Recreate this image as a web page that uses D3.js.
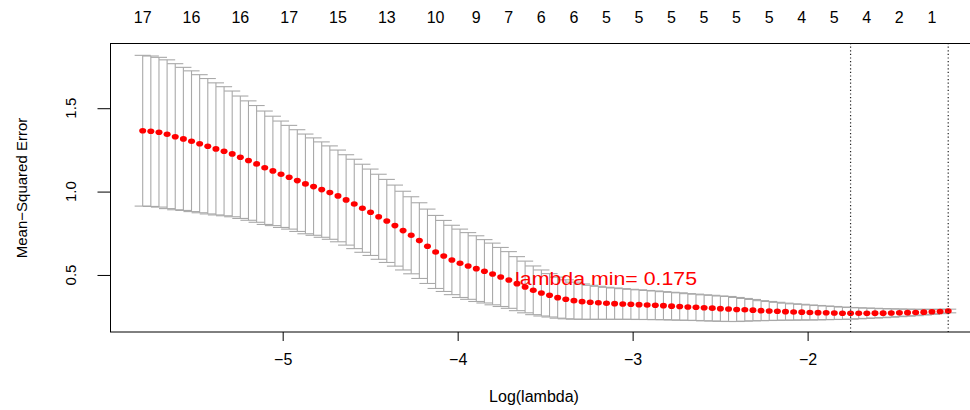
<!DOCTYPE html>
<html><head><meta charset="utf-8">
<script src="https://cdn.jsdelivr.net/npm/d3@7/dist/d3.min.js"></script>
<style>body{margin:0;background:#fff}svg{display:block;font-family:"Liberation Sans",Arial,sans-serif}</style>
</head><body><svg id="c" width="970" height="410"></svg>
<script>
const logLambda = [-5.800,-5.7535,-5.707,-5.6605,-5.614,-5.5675,-5.521,-5.4745,-5.428,-5.3815,
-5.335,-5.2885,-5.242,-5.1955,-5.149,-5.1025,-5.056,-5.0095,-4.963,-4.9165,
-4.870,-4.8235,-4.777,-4.7305,-4.684,-4.6375,-4.591,-4.5445,-4.498,-4.4515,
-4.405,-4.3585,-4.312,-4.2655,-4.219,-4.1725,-4.126,-4.0795,-4.033,-3.9865,
-3.940,-3.8935,-3.847,-3.8005,-3.754,-3.7075,-3.661,-3.6145,-3.568,-3.5215,
-3.475,-3.4285,-3.382,-3.3355,-3.289,-3.2425,-3.196,-3.1495,-3.103,-3.0565,
-3.010,-2.9635,-2.917,-2.8705,-2.824,-2.7775,-2.731,-2.6845,-2.638,-2.5915,
-2.545,-2.4985,-2.452,-2.4055,-2.359,-2.3125,-2.266,-2.2195,-2.173,-2.1265,
-2.080,-2.0335,-1.987,-1.9405,-1.894,-1.8475,-1.801,-1.7545,-1.708,-1.6615,
-1.615,-1.5685,-1.522,-1.4755,-1.429,-1.3825,-1.336,-1.2895,-1.243,-1.1965];

const cvm = [1.365,1.362,1.356,1.344,1.329,1.316,1.302,1.287,1.272,1.256,
1.242,1.226,1.206,1.186,1.166,1.143,1.124,1.104,1.086,1.066,
1.046,1.030,1.012,0.994,0.974,0.950,0.926,0.900,0.876,0.849,
0.824,0.796,0.766,0.738,0.706,0.672,0.638,0.614,0.590,0.570,
0.554,0.538,0.522,0.506,0.488,0.470,0.448,0.428,0.408,0.392,
0.378,0.364,0.354,0.346,0.340,0.336,0.333,0.330,0.328,0.326,
0.324,0.322,0.320,0.318,0.316,0.313,0.311,0.308,0.306,0.303,
0.301,0.298,0.296,0.293,0.291,0.289,0.286,0.284,0.282,0.280,
0.278,0.277,0.275,0.274,0.273,0.272,0.2705,0.2700,0.2702,0.2705,
0.271,0.271,0.272,0.273,0.274,0.275,0.277,0.279,0.281,0.284];

const cvsd = [0.452,0.451,0.449,0.446,0.438,0.429,0.422,0.414,0.406,0.396,
0.387,0.377,0.367,0.358,0.350,0.340,0.328,0.319,0.311,0.305,
0.299,0.292,0.286,0.280,0.275,0.271,0.268,0.264,0.259,0.255,
0.249,0.243,0.236,0.231,0.227,0.223,0.219,0.213,0.208,0.205,
0.200,0.197,0.190,0.185,0.177,0.170,0.162,0.155,0.146,0.138,
0.130,0.123,0.117,0.111,0.106,0.102,0.099,0.096,0.094,0.092,
0.090,0.089,0.087,0.086,0.084,0.083,0.082,0.080,0.079,0.078,
0.077,0.076,0.075,0.072,0.068,0.064,0.060,0.057,0.054,0.051,
0.049,0.047,0.045,0.043,0.041,0.039,0.037,0.035,0.033,0.031,
0.029,0.027,0.025,0.023,0.021,0.019,0.017,0.015,0.013,0.011];

const topLabelAt = [-5.800,-5.521,-5.242,-4.963,-4.684,-4.405,-4.126,-3.894,-3.708,-3.522,-3.336,
-3.150,-2.964,-2.778,-2.592,-2.406,-2.220,-2.034,-1.848,-1.662,-1.476,-1.290];
const topLabels = ["17","16","16","17","15","13","10","9","7","6","6","5","5","5","5","5","5","4","5","4","2","1"];
const xTicks = [-5,-4,-3,-2];
const yTicks = [0.5,1.0,1.5];
const vLines = [-1.7545,-1.1965];
const annotation = {text:"lambda min= 0.175", x:-3.672, y:0.44};
const xLabel = "Log(lambda)";
const yLabel = "Mean\u2212Squared Error";

const svg = d3.select("#c");
const x = d3.scaleLinear().domain([-5.984,-1.012]).range([110.5,980.5]);
const y = d3.scaleLinear().domain([0.158,1.891]).range([332,43]);
const barw = 0.01 * (d3.max(logLambda) - d3.min(logLambda));
const data = logLambda.map((l,i)=>({l, m:cvm[i], s:cvsd[i]}));

// error bars
const eb = svg.append("g").attr("stroke","#A9A9A9").attr("stroke-width",1.1).attr("fill","none");
eb.selectAll("line.v").data(data).join("line").attr("class","v")
  .attr("x1",d=>x(d.l)).attr("x2",d=>x(d.l))
  .attr("y1",d=>y(d.m+d.s)).attr("y2",d=>y(d.m-d.s));
eb.selectAll("line.u").data(data).join("line").attr("class","u")
  .attr("x1",d=>x(d.l-barw)).attr("x2",d=>x(d.l+barw))
  .attr("y1",d=>y(d.m+d.s)).attr("y2",d=>y(d.m+d.s));
eb.selectAll("line.lo").data(data).join("line").attr("class","lo")
  .attr("x1",d=>x(d.l-barw)).attr("x2",d=>x(d.l+barw))
  .attr("y1",d=>y(d.m-d.s)).attr("y2",d=>y(d.m-d.s));

// points
svg.append("g").attr("fill","#FF0000").selectAll("ellipse").data(data).join("ellipse")
  .attr("cx",d=>x(d.l)).attr("cy",d=>y(d.m)).attr("rx",3.5).attr("ry",2.8);

// vertical dotted lines
svg.append("g").selectAll("line").data(vLines).join("line")
  .attr("x1",d=>x(d)).attr("x2",d=>x(d)).attr("y1",43).attr("y2",332)
  .attr("stroke","#222").attr("stroke-width",1.2).attr("stroke-dasharray","1.2,2.4");

// annotation
svg.append("text").attr("x",x(annotation.x)).attr("y",y(annotation.y))
  .attr("fill","#FF0000").attr("font-size",18)
  .attr("textLength",182).attr("lengthAdjust","spacingAndGlyphs").text(annotation.text);

// box
svg.append("rect").attr("x",110.5).attr("y",43.5).attr("width",870).attr("height",288.5)
  .attr("fill","none").attr("stroke","#000").attr("stroke-width",1);

// x axis
const xa = svg.append("g").attr("transform","translate(0,332)")
  .call(d3.axisBottom(x).tickValues(xTicks).tickSize(9).tickPadding(13).tickFormat(d3.format("d")));
xa.select(".domain").remove();
xa.selectAll("text").attr("font-size",16).attr("font-family","Liberation Sans, Arial, sans-serif").attr("fill","#000");
xa.selectAll("line").attr("stroke","#000");

// y axis
const ya = svg.append("g").attr("transform","translate(110.5,0)")
  .call(d3.axisLeft(y).tickValues(yTicks).tickSize(13).tickFormat(""));
ya.select(".domain").remove();
ya.selectAll("line").attr("stroke","#000");
svg.append("g").selectAll("text").data(yTicks).join("text")
  .attr("transform",d=>`translate(75.5,${y(d)}) rotate(-90)`)
  .attr("text-anchor","middle").attr("font-size",15).text(d=>d3.format(".1f")(d));

// top labels
svg.append("g").selectAll("text").data(topLabelAt).join("text")
  .attr("x",d=>x(d)).attr("y",22.5).attr("text-anchor","middle").attr("font-size",16)
  .text((d,i)=>topLabels[i]);

// axis titles
svg.append("text").attr("x",534).attr("y",402).attr("text-anchor","middle").attr("font-size",16).text(xLabel);
svg.append("text").attr("transform","translate(26.5,188) rotate(-90)").attr("text-anchor","middle").attr("font-size",15).text(yLabel);
</script></body></html>
